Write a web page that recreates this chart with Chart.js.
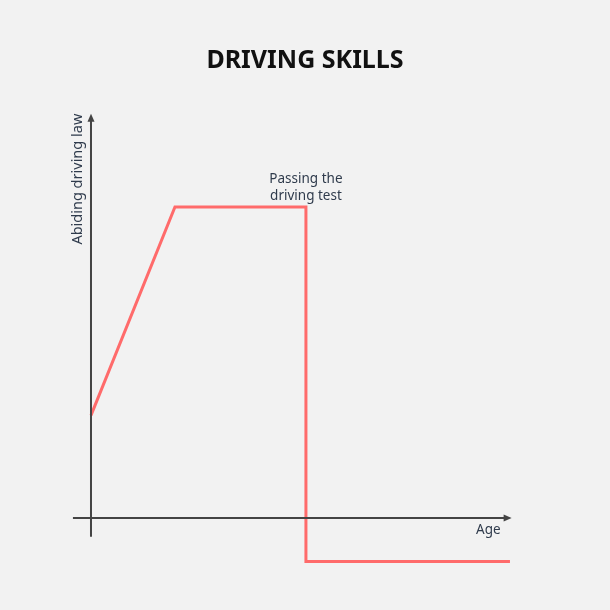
<!DOCTYPE html>
<html>
<head>
<meta charset="utf-8">
<script src="https://cdn.jsdelivr.net/npm/chart.js@4"></script>
<style>
  html, body { margin: 0; padding: 0; background: #f2f2f2; }
  #wrap { width: 610px; height: 610px; position: relative; }
</style>
</head>
<body>
<div id="wrap"><canvas id="skillsChart"></canvas></div>
<script>
// data
const ages = [0, 2, 5.12, 5.12, 9.98];
const lawValues = [3.3, 10, 10, -1.4, -1.4];
const titleText = 'DRIVING SKILLS';
const xLabel = 'Age';
const yLabel = 'Abiding driving law';
const noteLines = ['Passing the', 'driving test'];
const noteAt = { x: 5.12, y: 10 };

const FONT = '"Noto Sans", "DejaVu Sans", sans-serif';

// draws title, axes with arrows and the text labels
const axesPlugin = {
    id: 'axesPlugin',
    afterDraw(chart) {
        const ctx = chart.ctx;
        const xs = chart.scales.x;
        const ys = chart.scales.y;
        const x0 = xs.getPixelForValue(0);
        const y0 = ys.getPixelForValue(0);
        ctx.save();

        // title
        ctx.fillStyle = '#111';
        ctx.font = 'bold 25px ' + FONT;
        ctx.textAlign = 'center';
        ctx.textBaseline = 'middle';
        ctx.fillText(titleText, 305, 61);

        // axes
        ctx.strokeStyle = '#444';
        ctx.fillStyle = '#444';
        ctx.lineWidth = 2;
        const xEnd = xs.getPixelForValue(10.02);
        const yEnd = ys.getPixelForValue(13.0);
        ctx.beginPath();
        ctx.moveTo(xs.getPixelForValue(-0.43), y0);
        ctx.lineTo(xEnd - 6, y0);
        ctx.moveTo(x0, ys.getPixelForValue(-0.6));
        ctx.lineTo(x0, yEnd + 6);
        ctx.stroke();
        // arrow heads
        ctx.beginPath();
        ctx.moveTo(xEnd, y0);
        ctx.lineTo(xEnd - 8, y0 - 3.5);
        ctx.lineTo(xEnd - 8, y0 + 3.5);
        ctx.closePath();
        ctx.fill();
        ctx.beginPath();
        ctx.moveTo(x0, yEnd);
        ctx.lineTo(x0 - 3.5, yEnd + 8);
        ctx.lineTo(x0 + 3.5, yEnd + 8);
        ctx.closePath();
        ctx.fill();

        // axis titles
        ctx.fillStyle = '#2f3b4c';
        ctx.font = '13.5px ' + FONT;
        ctx.textAlign = 'right';
        ctx.textBaseline = 'top';
        ctx.fillText(xLabel, xEnd - 11, y0 + 5);
        ctx.save();
        ctx.font = '14.5px ' + FONT;
        ctx.translate(x0 - 13, yEnd);
        ctx.rotate(-Math.PI / 2);
        ctx.textAlign = 'right';
        ctx.textBaseline = 'middle';
        ctx.fillText(yLabel, 0, 0);
        ctx.restore();

        // note
        ctx.textAlign = 'center';
        ctx.textBaseline = 'middle';
        const nx = xs.getPixelForValue(noteAt.x);
        const ny = ys.getPixelForValue(noteAt.y);
        ctx.fillText(noteLines[0], nx, ny - 28);
        ctx.fillText(noteLines[1], nx, ny - 11);
        ctx.restore();
    }
};

new Chart(document.getElementById('skillsChart').getContext('2d'), {
    type: 'line',
    data: {
        datasets: [{
            data: ages.map((a, i) => ({ x: a, y: lawValues[i] })),
            borderColor: '#ff6b6b',
            borderWidth: 3,
            pointRadius: 0,
            tension: 0,
            fill: false,
            clip: false
        }]
    },
    options: {
        responsive: true,
        maintainAspectRatio: false,
        animation: false,
        layout: { padding: { left: 70, right: 95, top: 110.6, bottom: 42.2 } },
        plugins: { legend: { display: false }, title: { display: false }, tooltip: { enabled: false } },
        scales: {
            x: { type: 'linear', min: -0.5, max: 10.1, display: false },
            y: { type: 'linear', min: -1.6, max: 13.1, display: false }
        }
    },
    plugins: [axesPlugin]
});
</script>
</body>
</html>
